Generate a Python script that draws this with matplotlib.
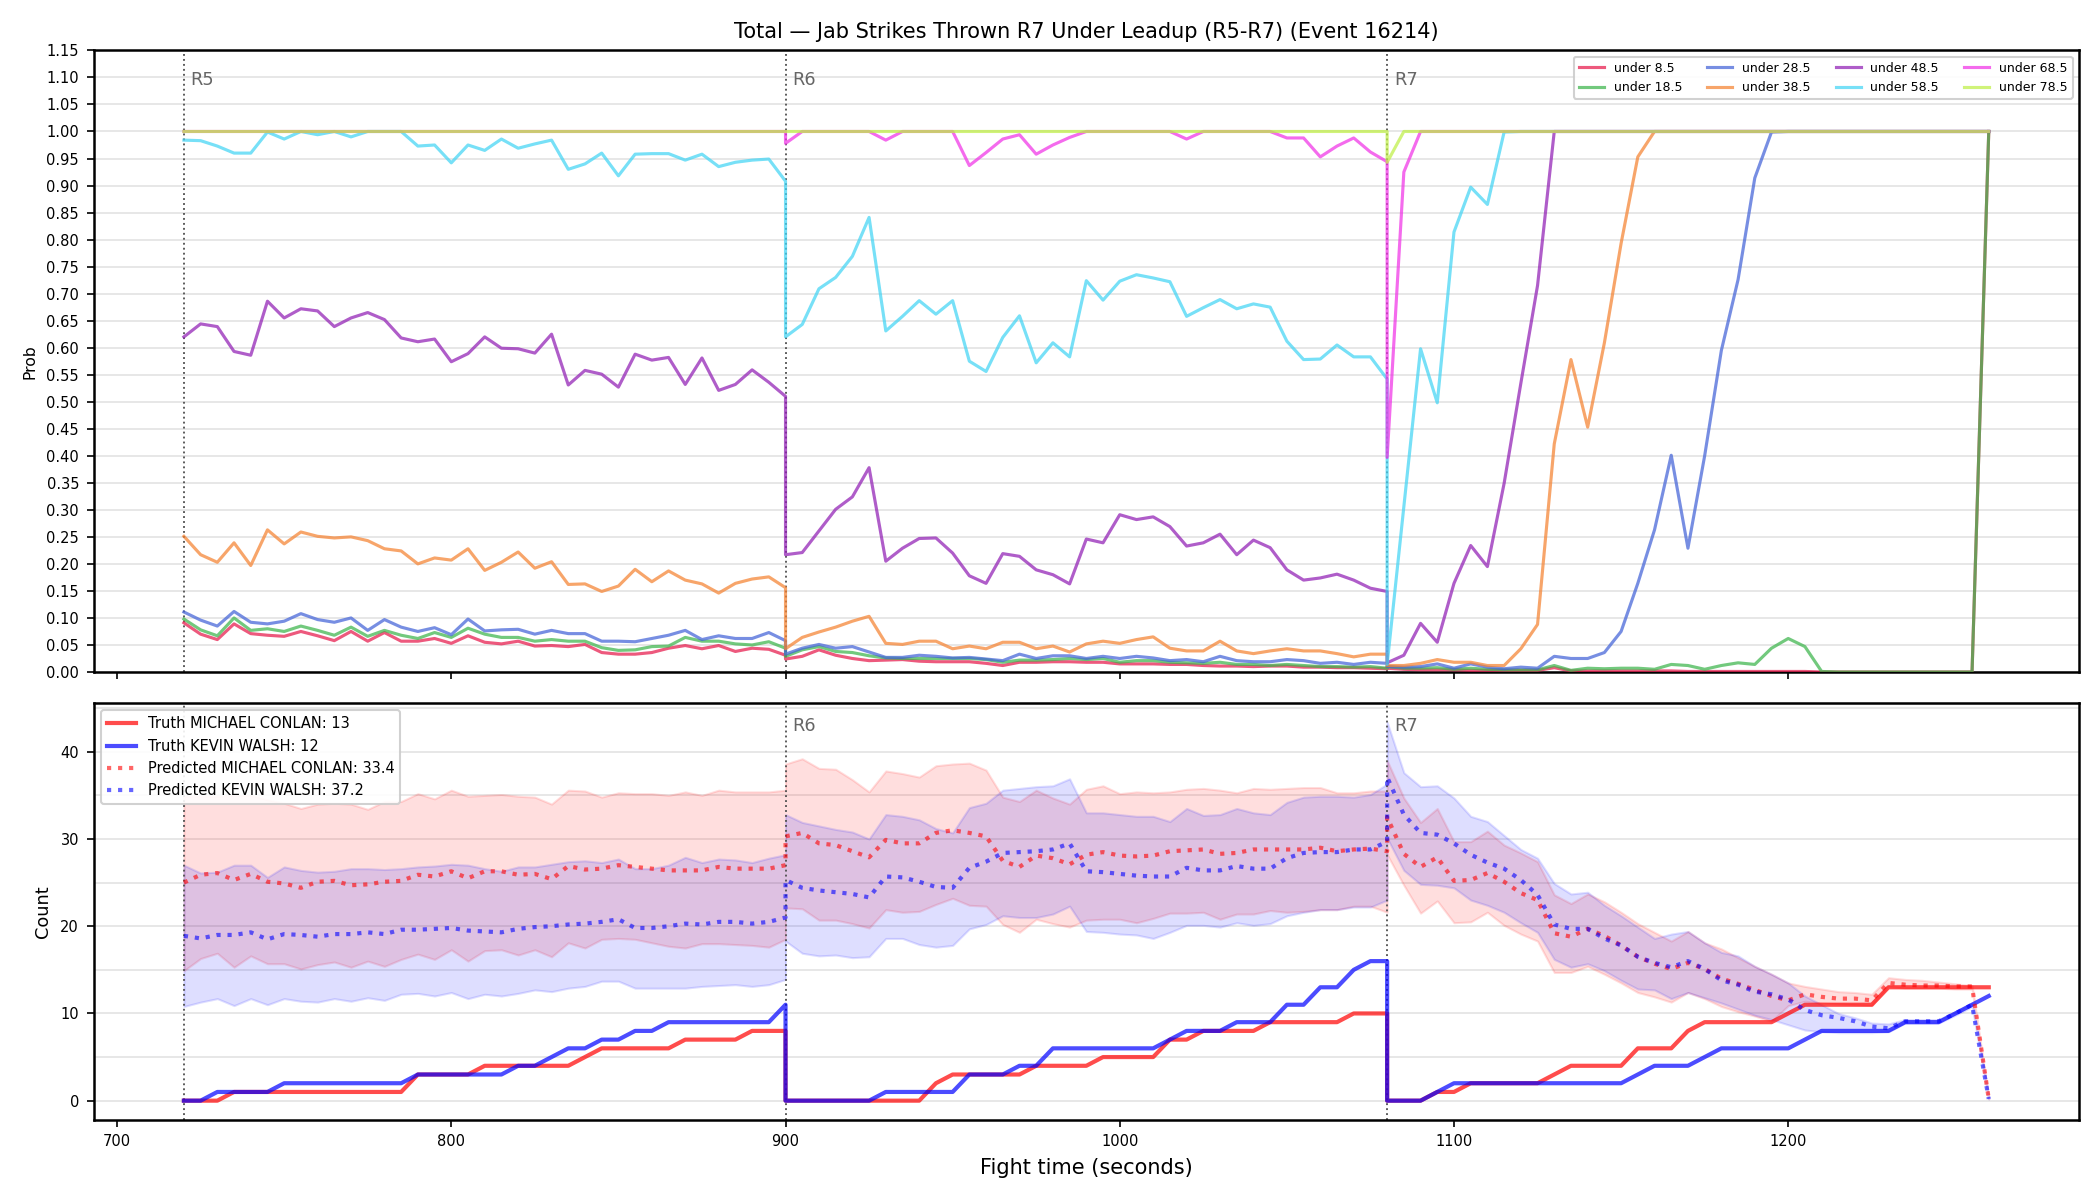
import numpy as np
import matplotlib
matplotlib.use("Agg")
import matplotlib.pyplot as plt
from matplotlib.ticker import MultipleLocator, FormatStrFormatter

# ---- time axis: three rounds, 5 s steps ----
rounds = ["R5", "R6", "R7"]
round_starts = [720, 900, 1080]
step = 5
n_pts = 37

# ---- top panel: P(total under line) per round ----
lines = ["under 8.5", "under 18.5", "under 28.5", "under 38.5",
         "under 48.5", "under 58.5", "under 68.5", "under 78.5"]
line_colors = ["#e6194b", "#3cb44b", "#4363d8", "#f58231",
               "#911eb4", "#42d4f4", "#f032e6", "#bfef45"]

u8_r5 = [0.091, 0.070, 0.060, 0.089, 0.071, 0.068, 0.066, 0.075, 0.067, 0.058, 0.075, 0.057, 0.073,
         0.057, 0.057, 0.062, 0.053, 0.067, 0.055, 0.052, 0.057, 0.048, 0.049, 0.047, 0.051, 0.036,
         0.033, 0.033, 0.036, 0.044, 0.049, 0.043, 0.049, 0.038, 0.044, 0.042, 0.031]
u8_r6 = [0.024, 0.029, 0.041, 0.031, 0.025, 0.021, 0.022, 0.023, 0.020, 0.019, 0.019, 0.019, 0.016,
         0.012, 0.018, 0.018, 0.019, 0.019, 0.018, 0.018, 0.015, 0.015, 0.015, 0.014, 0.014, 0.012,
         0.011, 0.011, 0.010, 0.011, 0.011, 0.009, 0.009, 0.008, 0.008, 0.007, 0.006]
u8_r7 = [0.007, 0.005, 0.004, 0.004, 0.004, 0.003, 0.003, 0.003, 0.003, 0.003, 0.008, 0.002, 0.002,
         0.002, 0.002, 0.002, 0.002, 0.002, 0.001, 0.001, 0.001, 0.001, 0.001, 0.001, 0.001, 0.001,
         0.0, 0.0, 0.0, 0.0, 0.0, 0.0, 0.0, 0.0, 0.0, 0.0, 1.0]

u18_r5 = [0.098, 0.078, 0.067, 0.100, 0.077, 0.080, 0.075, 0.085, 0.077, 0.068, 0.083, 0.066, 0.077,
          0.068, 0.062, 0.073, 0.064, 0.081, 0.070, 0.064, 0.064, 0.057, 0.060, 0.057, 0.057, 0.045,
          0.040, 0.041, 0.047, 0.048, 0.064, 0.057, 0.057, 0.052, 0.050, 0.056, 0.044]
u18_r6 = [0.029, 0.041, 0.047, 0.038, 0.036, 0.030, 0.026, 0.025, 0.025, 0.025, 0.025, 0.025, 0.023,
          0.018, 0.022, 0.022, 0.023, 0.025, 0.023, 0.025, 0.018, 0.021, 0.021, 0.018, 0.017, 0.016,
          0.018, 0.014, 0.014, 0.012, 0.014, 0.012, 0.010, 0.010, 0.009, 0.010, 0.007]
u18_r7 = [0.010, 0.007, 0.007, 0.008, 0.005, 0.007, 0.005, 0.004, 0.004, 0.004, 0.012, 0.003, 0.007,
          0.006, 0.007, 0.007, 0.005, 0.014, 0.012, 0.005, 0.012, 0.017, 0.014, 0.044, 0.062, 0.047,
          0.001, 0.0, 0.0, 0.0, 0.0, 0.0, 0.0, 0.0, 0.0, 0.0, 1.0]

u28_r5 = [0.111, 0.096, 0.085, 0.112, 0.092, 0.089, 0.094, 0.108, 0.097, 0.092, 0.100, 0.077, 0.097,
          0.083, 0.075, 0.082, 0.069, 0.098, 0.076, 0.078, 0.079, 0.070, 0.077, 0.071, 0.071, 0.057,
          0.057, 0.056, 0.062, 0.068, 0.077, 0.060, 0.067, 0.062, 0.062, 0.073, 0.058]
u28_r6 = [0.033, 0.044, 0.051, 0.044, 0.047, 0.037, 0.027, 0.027, 0.031, 0.029, 0.026, 0.027, 0.024,
          0.021, 0.033, 0.025, 0.030, 0.030, 0.025, 0.029, 0.025, 0.029, 0.026, 0.021, 0.023, 0.019,
          0.029, 0.021, 0.019, 0.019, 0.023, 0.021, 0.016, 0.018, 0.014, 0.018, 0.016]
u28_r7 = [0.010, 0.009, 0.010, 0.015, 0.007, 0.015, 0.009, 0.006, 0.009, 0.007, 0.029, 0.025, 0.025,
          0.036, 0.075, 0.164, 0.263, 0.401, 0.229, 0.400, 0.595, 0.726, 0.914, 0.999, 1.0, 1.0,
          1.0, 1.0, 1.0, 1.0, 1.0, 1.0, 1.0, 1.0, 1.0, 1.0, 1.0]

u38_r5 = [0.251, 0.217, 0.203, 0.239, 0.197, 0.263, 0.237, 0.259, 0.251, 0.248, 0.250, 0.243, 0.228,
          0.224, 0.200, 0.211, 0.207, 0.228, 0.188, 0.203, 0.222, 0.192, 0.204, 0.162, 0.163, 0.149,
          0.159, 0.190, 0.167, 0.187, 0.170, 0.163, 0.146, 0.164, 0.172, 0.176, 0.156]
u38_r6 = [0.043, 0.064, 0.074, 0.083, 0.094, 0.103, 0.053, 0.051, 0.057, 0.057, 0.043, 0.048, 0.043,
          0.055, 0.055, 0.043, 0.048, 0.037, 0.052, 0.057, 0.053, 0.060, 0.065, 0.044, 0.039, 0.039,
          0.057, 0.039, 0.034, 0.039, 0.043, 0.039, 0.039, 0.034, 0.028, 0.033, 0.033]
u38_r7 = [0.012, 0.012, 0.016, 0.023, 0.018, 0.018, 0.012, 0.012, 0.043, 0.088, 0.422, 0.578, 0.453,
          0.609, 0.793, 0.953, 1.0, 1.0, 1.0, 1.0, 1.0, 1.0, 1.0, 1.0, 1.0, 1.0,
          1.0, 1.0, 1.0, 1.0, 1.0, 1.0, 1.0, 1.0, 1.0, 1.0, 1.0]

u48_r5 = [0.620, 0.644, 0.639, 0.593, 0.586, 0.686, 0.655, 0.672, 0.668, 0.639, 0.655, 0.665, 0.652,
          0.618, 0.611, 0.616, 0.574, 0.589, 0.620, 0.599, 0.598, 0.590, 0.625, 0.531, 0.558, 0.551,
          0.527, 0.588, 0.577, 0.582, 0.532, 0.581, 0.521, 0.532, 0.559, 0.536, 0.510]
u48_r6 = [0.217, 0.221, 0.261, 0.301, 0.324, 0.378, 0.205, 0.229, 0.247, 0.248, 0.220, 0.178, 0.164,
          0.219, 0.214, 0.189, 0.180, 0.163, 0.246, 0.239, 0.291, 0.282, 0.287, 0.269, 0.233, 0.239,
          0.255, 0.217, 0.244, 0.230, 0.189, 0.170, 0.174, 0.181, 0.170, 0.155, 0.149]
u48_r7 = [0.017, 0.031, 0.090, 0.055, 0.164, 0.234, 0.195, 0.349, 0.534, 0.715, 1.0, 1.0, 1.0,
          1.0, 1.0, 1.0, 1.0, 1.0, 1.0, 1.0, 1.0, 1.0, 1.0, 1.0, 1.0, 1.0,
          1.0, 1.0, 1.0, 1.0, 1.0, 1.0, 1.0, 1.0, 1.0, 1.0, 1.0]

u58_r5 = [0.984, 0.983, 0.973, 0.960, 0.960, 0.999, 0.986, 1.0, 0.994, 1.0, 0.990, 1.0, 1.0,
          1.0, 0.973, 0.975, 0.942, 0.975, 0.965, 0.986, 0.969, 0.977, 0.984, 0.930, 0.940, 0.960,
          0.918, 0.958, 0.959, 0.959, 0.947, 0.958, 0.935, 0.943, 0.947, 0.949, 0.908]
u58_r6 = [0.620, 0.643, 0.709, 0.730, 0.769, 0.841, 0.631, 0.658, 0.687, 0.662, 0.687, 0.575, 0.556,
          0.619, 0.659, 0.572, 0.609, 0.583, 0.724, 0.688, 0.723, 0.735, 0.729, 0.722, 0.658, 0.674,
          0.689, 0.672, 0.681, 0.675, 0.612, 0.578, 0.579, 0.605, 0.583, 0.583, 0.542]
u58_r7 = [0.014, 0.306, 0.598, 0.498, 0.814, 0.897, 0.865, 0.999, 1.0, 1.0, 1.0, 1.0, 1.0,
          1.0, 1.0, 1.0, 1.0, 1.0, 1.0, 1.0, 1.0, 1.0, 1.0, 1.0, 1.0, 1.0,
          1.0, 1.0, 1.0, 1.0, 1.0, 1.0, 1.0, 1.0, 1.0, 1.0, 1.0]

u68_r5 = [1.0] * 37
u68_r6 = [0.978, 1.0, 1.0, 1.0, 1.0, 1.0, 0.984, 1.0, 1.0, 1.0, 1.0, 0.937, 0.961,
          0.986, 0.994, 0.958, 0.975, 0.989, 1.0, 1.0, 1.0, 1.0, 1.0, 1.0, 0.986, 1.0,
          1.0, 1.0, 1.0, 1.0, 0.988, 0.988, 0.953, 0.973, 0.988, 0.962, 0.944]
u68_r7 = [0.397, 0.925] + [1.0] * 35

u78_r5 = [1.0] * 37
u78_r6 = [1.0] * 37
u78_r7 = [0.943] + [1.0] * 36

probs = {
    "under 8.5": [u8_r5, u8_r6, u8_r7],
    "under 18.5": [u18_r5, u18_r6, u18_r7],
    "under 28.5": [u28_r5, u28_r6, u28_r7],
    "under 38.5": [u38_r5, u38_r6, u38_r7],
    "under 48.5": [u48_r5, u48_r6, u48_r7],
    "under 58.5": [u58_r5, u58_r6, u58_r7],
    "under 68.5": [u68_r5, u68_r6, u68_r7],
    "under 78.5": [u78_r5, u78_r6, u78_r7],
}

# ---- bottom panel: cumulative jab counts per round ----
fighter_a = "MICHAEL CONLAN"
fighter_b = "KEVIN WALSH"
final_truth = {fighter_a: 13, fighter_b: 12}
final_pred = {fighter_a: 33.4, fighter_b: 37.2}

truth_a = [
    [0, 0, 0, 1, 1, 1, 1, 1, 1, 1, 1, 1, 1, 1, 3, 3, 3, 3, 4, 4, 4, 4, 4, 4, 5, 6, 6, 6, 6, 6, 7, 7, 7, 7, 8, 8, 8],
    [0, 0, 0, 0, 0, 0, 0, 0, 0, 2, 3, 3, 3, 3, 3, 4, 4, 4, 4, 5, 5, 5, 5, 7, 7, 8, 8, 8, 8, 9, 9, 9, 9, 9, 10, 10, 10],
    [0, 0, 0, 1, 1, 2, 2, 2, 2, 2, 3, 4, 4, 4, 4, 6, 6, 6, 8, 9, 9, 9, 9, 9, 10, 11, 11, 11, 11, 11, 13, 13, 13, 13, 13, 13, 13],
]
truth_b = [
    [0, 0, 1, 1, 1, 1, 2, 2, 2, 2, 2, 2, 2, 2, 3, 3, 3, 3, 3, 3, 4, 4, 5, 6, 6, 7, 7, 8, 8, 9, 9, 9, 9, 9, 9, 9, 11],
    [0, 0, 0, 0, 0, 0, 1, 1, 1, 1, 1, 3, 3, 3, 4, 4, 6, 6, 6, 6, 6, 6, 6, 7, 8, 8, 8, 9, 9, 9, 11, 11, 13, 13, 15, 16, 16],
    [0, 0, 0, 1, 2, 2, 2, 2, 2, 2, 2, 2, 2, 2, 2, 3, 4, 4, 4, 5, 6, 6, 6, 6, 6, 7, 8, 8, 8, 8, 8, 9, 9, 9, 10, 11, 12],
]

pred_a = [
    [25.0, 25.9, 26.1, 25.3, 26.0, 25.1, 24.9, 24.4, 25.1, 25.2, 24.7, 24.8, 25.1, 25.2, 25.9, 25.7, 26.3, 25.5, 26.3,
     26.3, 25.9, 26.0, 25.4, 26.9, 26.5, 26.6, 27.0, 26.8, 26.6, 26.4, 26.4, 26.4, 26.8, 26.6, 26.6, 26.6, 27.0],
    [30.3, 30.7, 29.5, 29.3, 28.6, 27.9, 29.9, 29.5, 29.5, 30.7, 31.0, 30.7, 30.3, 27.5, 26.8, 28.1, 27.8, 27.1, 28.2,
     28.5, 28.1, 28.0, 28.1, 28.6, 28.7, 28.8, 28.3, 28.4, 28.8, 28.8, 28.8, 28.8, 29.0, 28.6, 28.8, 28.9, 28.6],
    [32.5, 28.3, 26.8, 27.9, 25.2, 25.3, 26.1, 25.1, 23.8, 23.0, 19.2, 18.8, 19.7, 18.9, 17.8, 16.5, 15.7, 15.1, 15.8,
     15.1, 14.0, 13.4, 12.7, 12.0, 11.5, 12.2, 11.9, 11.7, 11.7, 11.5, 13.5, 13.3, 13.2, 13.2, 13.1, 13.1, 0.2],
]
pred_a_hi = [
    [34.9, 34.9, 34.9, 35.0, 35.0, 34.5, 34.1, 33.5, 34.0, 34.1, 34.0, 33.4, 34.3, 34.3, 35.2, 34.6, 35.6, 34.9, 35.0,
     35.1, 34.9, 34.8, 34.0, 35.6, 35.5, 34.8, 35.3, 35.2, 35.2, 35.0, 35.4, 35.0, 35.6, 35.4, 35.4, 35.4, 35.6],
    [38.6, 39.2, 38.1, 38.0, 36.8, 35.4, 37.8, 37.5, 37.1, 38.4, 38.6, 38.7, 37.9, 34.8, 34.3, 35.6, 34.7, 34.0, 35.7,
     36.1, 35.2, 35.4, 35.3, 35.4, 35.7, 35.8, 35.6, 35.3, 35.8, 35.7, 35.8, 35.9, 35.9, 35.3, 35.3, 35.5, 35.5],
    [39.0, 34.7, 31.9, 33.5, 29.7, 29.7, 30.9, 29.3, 28.4, 27.4, 23.6, 22.6, 23.7, 22.8, 21.6, 20.3, 19.3, 18.3, 19.4,
     18.1, 17.4, 16.4, 15.4, 14.5, 13.5, 13.1, 12.8, 12.5, 12.4, 12.2, 14.1, 13.9, 13.8, 13.6, 13.4, 13.2, 0.2],
]
pred_a_lo = [
    [14.9, 16.3, 16.9, 15.3, 16.6, 15.7, 15.7, 15.1, 15.6, 15.9, 15.3, 16.0, 15.4, 16.2, 16.8, 16.2, 17.3, 16.0, 17.2,
     17.3, 16.7, 17.3, 16.5, 18.1, 17.5, 18.5, 18.6, 18.5, 18.1, 17.7, 17.5, 18.0, 18.0, 17.9, 17.8, 17.6, 18.5],
    [22.1, 22.0, 20.7, 20.7, 20.3, 19.8, 21.9, 21.6, 21.7, 22.5, 23.2, 22.4, 22.3, 20.2, 19.3, 20.8, 20.3, 19.9, 20.7,
     20.8, 20.8, 20.4, 20.9, 21.5, 21.5, 21.6, 20.8, 21.4, 21.4, 21.8, 21.6, 21.7, 21.9, 21.9, 22.3, 22.3, 21.6],
    [28.2, 24.7, 21.5, 22.9, 20.4, 20.5, 21.6, 20.1, 19.1, 18.3, 14.7, 14.7, 15.4, 14.5, 13.5, 12.4, 11.9, 11.3, 12.4,
     11.7, 10.8, 10.2, 9.7, 9.1, 10.9, 11.4, 11.2, 11.1, 11.0, 10.9, 13.1, 12.9, 12.9, 12.9, 12.8, 12.8, 0.2],
]

pred_b = [
    [18.9, 18.6, 19.0, 19.0, 19.3, 18.5, 19.1, 19.0, 18.8, 19.1, 19.1, 19.3, 19.1, 19.6, 19.6, 19.7, 19.8, 19.5, 19.4,
     19.3, 19.7, 19.9, 20.0, 20.2, 20.3, 20.5, 20.8, 19.8, 19.8, 20.0, 20.3, 20.2, 20.5, 20.5, 20.3, 20.5, 21.0],
    [25.3, 24.4, 24.1, 23.9, 23.7, 23.3, 25.7, 25.6, 25.1, 24.5, 24.4, 26.7, 27.4, 28.4, 28.5, 28.6, 28.8, 29.5, 26.3,
     26.2, 26.0, 25.8, 25.7, 25.7, 26.7, 26.4, 26.4, 26.9, 26.6, 26.6, 27.8, 28.4, 28.5, 28.5, 28.8, 28.8, 29.7],
    [37.1, 32.8, 30.7, 30.5, 29.5, 28.2, 27.3, 26.6, 25.3, 23.6, 20.2, 19.7, 19.7, 18.6, 17.8, 16.5, 15.8, 15.3, 16.0,
     15.1, 13.8, 13.3, 12.5, 12.2, 11.6, 10.4, 9.8, 9.5, 9.1, 8.5, 8.3, 9.1, 9.1, 9.1, 10.0, 11.0, 0.2],
]
pred_b_hi = [
    [27.0, 26.1, 26.2, 27.0, 27.0, 25.6, 26.8, 26.4, 26.2, 26.3, 26.6, 26.6, 26.5, 26.6, 26.8, 26.9, 27.1, 27.0, 26.6,
     26.3, 26.8, 26.8, 27.1, 27.4, 27.5, 27.3, 27.7, 26.6, 26.6, 27.0, 27.9, 27.3, 27.7, 27.6, 27.3, 27.8, 28.2],
    [32.8, 31.9, 31.5, 31.1, 30.8, 30.0, 32.8, 32.6, 32.2, 31.2, 30.7, 33.6, 34.1, 35.6, 35.8, 36.0, 36.1, 36.9, 33.0,
     33.0, 32.8, 32.6, 32.6, 32.0, 33.5, 32.7, 32.8, 33.5, 33.0, 32.8, 34.2, 34.8, 34.9, 34.9, 34.8, 35.1, 36.3],
    [43.4, 37.6, 36.0, 36.1, 34.7, 32.6, 32.0, 30.4, 28.8, 27.8, 24.9, 23.7, 23.9, 22.4, 21.2, 19.9, 18.6, 19.1, 19.4,
     18.1, 17.0, 16.6, 15.4, 14.5, 13.5, 12.0, 11.0, 10.0, 9.5, 8.9, 8.8, 9.3, 9.3, 9.3, 10.2, 11.2, 0.2],
]
pred_b_lo = [
    [10.8, 11.3, 11.7, 10.9, 11.7, 11.0, 11.7, 11.4, 11.3, 11.7, 11.4, 11.8, 11.5, 12.2, 12.3, 12.0, 12.4, 11.7, 12.2,
     12.0, 12.3, 12.7, 12.5, 12.9, 13.1, 13.7, 13.7, 12.9, 12.9, 12.9, 12.9, 13.1, 13.2, 13.3, 13.1, 13.3, 13.9],
    [18.3, 16.9, 16.6, 16.7, 16.4, 16.5, 18.6, 18.6, 17.9, 17.6, 17.8, 19.7, 20.2, 21.2, 21.0, 21.0, 21.4, 22.3, 19.4,
     19.3, 19.1, 19.0, 18.6, 19.3, 20.1, 20.1, 19.9, 20.4, 20.1, 20.3, 21.2, 21.6, 21.9, 21.9, 22.2, 22.2, 23.0],
    [30.1, 26.4, 24.8, 24.7, 24.4, 23.0, 22.4, 21.6, 20.4, 19.3, 16.2, 15.3, 15.7, 14.9, 13.8, 12.8, 12.7, 11.7, 12.4,
     11.8, 11.2, 10.5, 9.8, 9.3, 8.7, 8.1, 7.9, 7.8, 7.8, 7.8, 7.9, 8.9, 8.9, 8.9, 9.8, 10.8, 0.2],
]


def round_times():
    t = [start + step * np.arange(n_pts) for start in round_starts]
    return np.concatenate(t)


def join(parts):
    return np.concatenate([np.asarray(p, dtype=float) for p in parts])


def mark_rounds(ax, label_y, skip=()):
    for name, start in zip(rounds, round_starts):
        ax.axvline(start, color="#555555", linestyle=":", linewidth=0.9, zorder=1)
        if name in skip:
            continue
        ax.text(start + 2, label_y, name, transform=ax.get_xaxis_transform(),
                ha="left", va="top", fontsize=8.5, color="#666666")


t = round_times()

fig = plt.figure(figsize=(14, 8), dpi=150)
ax1 = fig.add_axes([0.0446, 0.440, 0.9454, 0.518])
ax2 = fig.add_axes([0.0446, 0.067, 0.9454, 0.347], sharex=ax1)

# top: probabilities
for name, color in zip(lines, line_colors):
    ax1.plot(t, join(probs[name]), color=color, alpha=0.72, linewidth=1.5, label=name, zorder=3)
mark_rounds(ax1, 0.967)
ax1.set_ylim(0, 1.15)
ax1.yaxis.set_major_locator(MultipleLocator(0.05))
ax1.yaxis.set_major_formatter(FormatStrFormatter("%.2f"))
ax1.grid(axis="y", color="#e3e3e3", linewidth=0.8)
ax1.set_axisbelow(True)
ax1.set_ylabel("Prob", fontsize=7.5)
ax1.tick_params(axis="y", labelsize=7)
plt.setp(ax1.get_xticklabels(), visible=False)
ax1.set_title("Total \u2014 Jab Strikes Thrown R7 Under Leadup (R5-R7) (Event 16214)", fontsize=10)
ax1.legend(loc="upper right", ncol=4, fontsize=6, framealpha=0.9)

# bottom: counts
ax2.fill_between(t, join(pred_a_lo), join(pred_a_hi), color="red", alpha=0.13, linewidth=1)
ax2.fill_between(t, join(pred_b_lo), join(pred_b_hi), color="blue", alpha=0.13, linewidth=1)
ax2.plot(t, join(truth_a), color="red", alpha=0.7, linewidth=2,
         label=f"Truth {fighter_a}: {final_truth[fighter_a]}")
ax2.plot(t, join(truth_b), color="blue", alpha=0.7, linewidth=2,
         label=f"Truth {fighter_b}: {final_truth[fighter_b]}")
ax2.plot(t, join(pred_a), color="red", alpha=0.6, linewidth=2, linestyle=":",
         label=f"Predicted {fighter_a}: {final_pred[fighter_a]}")
ax2.plot(t, join(pred_b), color="blue", alpha=0.6, linewidth=2, linestyle=":",
         label=f"Predicted {fighter_b}: {final_pred[fighter_b]}")
mark_rounds(ax2, 0.967, skip=("R5",))
ax2.yaxis.set_major_locator(MultipleLocator(10))
ax2.yaxis.set_minor_locator(MultipleLocator(5))
ax2.grid(axis="y", which="both", color="#e3e3e3", linewidth=0.8)
ax2.tick_params(axis="y", which="minor", length=0)
ax2.set_axisbelow(True)
ax2.set_ylabel("Count", fontsize=8.5)
ax2.set_xlabel("Fight time (seconds)", fontsize=10)
ax2.tick_params(labelsize=7)
ax2.legend(loc="upper left", fontsize=7, framealpha=0.9)

for ax in (ax1, ax2):
    for sp in ax.spines.values():
        sp.set_linewidth(1.2)

fig.savefig("out.png", dpi=150)
